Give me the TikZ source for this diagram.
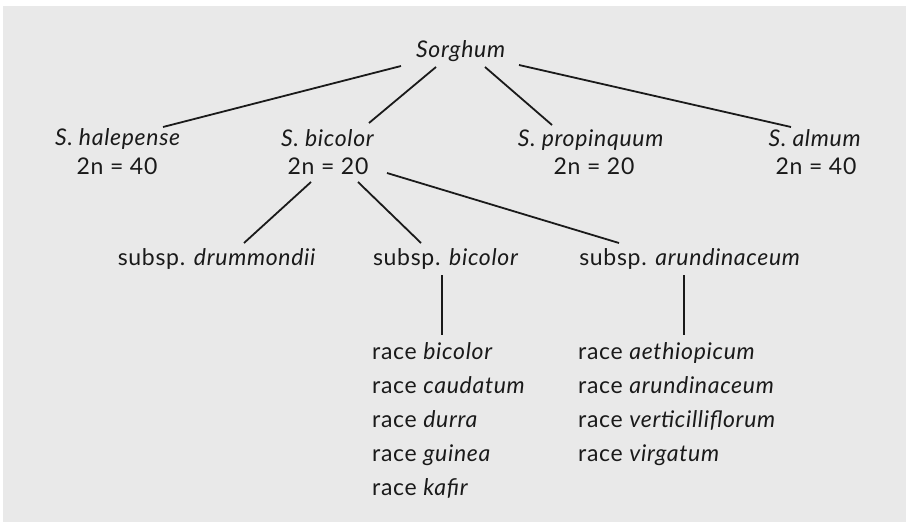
\documentclass[tikz,border=0pt]{standalone}
\usepackage{fontspec}
\setmainfont{Lato}[LetterSpace=3]
\usepackage{tikz}
\usetikzlibrary{positioning}
\usepackage{xcolor}
\definecolor{paper}{HTML}{E9E9E9}
\definecolor{ink}{HTML}{1A1A1A}

\begin{document}
\begin{tikzpicture}[x=1pt,y=-1pt,
    taxon/.style={anchor=base,inner sep=0pt,text=ink,font=\fontsize{23}{27}\selectfont},
    race/.style={anchor=base west,inner sep=0pt,text=ink,font=\fontsize{23}{27}\selectfont},
    branch/.style={draw=ink,line width=1.8pt},
    stem/.style={draw=ink,line width=1.3pt}]
                            \useasboundingbox (0,0) rectangle (911,522);
                            \fill[white] (0,0) rectangle (911,522);
                            \fill[paper] (3,6) rectangle (906,522);
                            % genus
                            \node[taxon] (sorg) at (461,57) {\textit{Sorghum}};
                            % species
                            \node[taxon] (hal) at (118,145) {\textit{S. halepense}};
                            \node[taxon] (bic) at (328,146) {\textit{S. bicolor}};
                            \node[taxon] (pro) at (591,146) {\textit{S. propinquum}};
                            \node[taxon] (alm) at (815,146) {\textit{S. almum}};
                            \node[taxon] (hn) at (117,174) {2n = 40};
                            \node[taxon] (bn) at (328,174) {2n = 20};
                            \node[taxon] (pn) at (594,174) {2n = 20};
                            \node[taxon] (an) at (816,174) {2n = 40};
                            % subspecies
                            \node[taxon] (dru) at (217,265) {subsp. \textit{drummondii}};
                            \node[taxon] (sbi) at (446,265) {subsp. \textit{bicolor}};
                            \node[taxon] (aru) at (690,265) {subsp. \textit{arundinaceum}};
                            % races
                            \foreach \r [count=\i] in {bicolor,caudatum,durra,guinea,kafir}
                                \node[race] (rb\i) at (372,325+34*\i) {race \textit{\r}};
                            \foreach \r [count=\i] in {aethiopicum,arundinaceum,verticilliflorum,virgatum}
                                \node[race] (ra\i) at (578,325+34*\i) {race \textit{\r}};
                            % branches
                            \draw[branch] ([shift={(-60,9)}]sorg.base) -- ([shift={(45,-18)}]hal.base);
                            \draw[branch] ([shift={(-25,10)}]sorg.base) -- ([shift={(41,-23)}]bic.base);
                            \draw[branch] ([shift={(24,10)}]sorg.base) -- ([shift={(-39,-21)}]pro.base);
                            \draw[branch] ([shift={(58,8)}]sorg.base) -- ([shift={(-24,-19)}]alm.base);
                            \draw[branch] ([shift={(-17,8)}]bn.base) -- ([shift={(27,-22)}]dru.base);
                            \draw[branch] ([shift={(30,8)}]bn.base) -- ([shift={(-25,-22)}]sbi.base);
                            \draw[branch] ([shift={(59,-1)}]bn.base) -- ([shift={(-71,-22)}]aru.base);
                            \draw[stem] ([shift={(-4,10)}]sbi.base) -- ([shift={(70,-24)}]rb1.base west);
                            \draw[stem] ([shift={(-6,10)}]aru.base) -- ([shift={(106,-24)}]ra1.base west);
                        \end{tikzpicture}
\end{document}
